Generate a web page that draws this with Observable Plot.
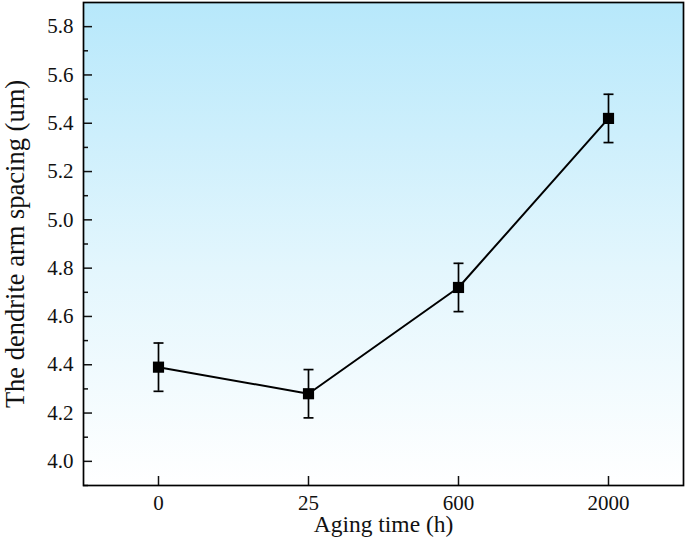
<!DOCTYPE html>
<html>
<head>
<meta charset="utf-8">
<script src="https://cdn.jsdelivr.net/npm/d3@7"></script>
<script src="https://cdn.jsdelivr.net/npm/@observablehq/plot@0.6"></script>
<style>
  html, body { margin: 0; padding: 0; background: #fff; }
  #chart svg { display: block; }
</style>
</head>
<body>
<div id="chart"></div>
<script>
const agingTime = ["0", "25", "600", "2000"];
const spacing = [4.39, 4.28, 4.72, 5.42];
const errorBar = [0.10, 0.10, 0.10, 0.10];
const majorTicks = [4.0, 4.2, 4.4, 4.6, 4.8, 5.0, 5.2, 5.4, 5.6, 5.8];
const minorTicks = [3.9, 4.1, 4.3, 4.5, 4.7, 4.9, 5.1, 5.3, 5.5, 5.7];
const yLabel = "The dendrite arm spacing (um)";
const xLabel = "Aging time (h)";

const data = agingTime.map((t, i) => ({t, v: spacing[i], lo: spacing[i] - errorBar[i], hi: spacing[i] + errorBar[i]}));

const hline = {
  draw(context, size) {
    const r = Math.sqrt(size / Math.PI);
    context.moveTo(-r, 0);
    context.lineTo(r, 0);
  }
};

const defs = () => {
  const g = d3.create("svg:defs");
  const lg = g.append("linearGradient").attr("id", "bgGrad").attr("x1", 0).attr("y1", 0).attr("x2", 0).attr("y2", 1);
  lg.append("stop").attr("offset", "0%").attr("stop-color", "#b7e8fb");
  lg.append("stop").attr("offset", "55%").attr("stop-color", "#e3f6fd");
  lg.append("stop").attr("offset", "100%").attr("stop-color", "#ffffff");
  return g.node();
};

const chart = Plot.plot({
  width: 685,
  height: 549,
  marginLeft: 83,
  marginRight: 2,
  marginTop: 2,
  marginBottom: 64,
  style: {fontFamily: "'Liberation Serif', 'Times New Roman', serif", color: "#111", background: "#fff"},
  x: {type: "point", domain: agingTime, padding: 0.5},
  y: {domain: [3.9, 5.9]},
  marks: [
    defs,
    Plot.frame({fill: "url(#bgGrad)", stroke: null}),
    Plot.axisY(minorTicks, {tickSize: -5, tickFormat: () => "", label: null, strokeWidth: 1.5}),
    Plot.axisY(majorTicks, {tickSize: -9, tickFormat: () => "", label: null, strokeWidth: 1.5}),
    Plot.axisY(majorTicks, {tickSize: 0, tickPadding: 10, tickFormat: d => d.toFixed(1), fontSize: 21, label: null}),
    Plot.axisY([], {tickSize: 0, fontSize: 26.5, label: yLabel, labelAnchor: "center", labelOffset: 78, labelArrow: "none"}),
    Plot.axisX(agingTime, {tickSize: -9, tickFormat: () => "", label: null, strokeWidth: 1.5}),
    Plot.axisX(agingTime, {tickSize: 0, tickPadding: 10, fontSize: 21, label: null}),
    Plot.axisX([], {tickSize: 0, fontSize: 23.5, label: xLabel, labelAnchor: "center", labelOffset: 46, labelArrow: "none"}),
    Plot.line(data, {x: "t", y: "v", stroke: "#000", strokeWidth: 2}),
    Plot.ruleX(data, {x: "t", y1: "lo", y2: "hi", stroke: "#000", strokeWidth: 1.7}),
    Plot.dot(data, {x: "t", y: "lo", symbol: hline, r: 5, stroke: "#000", strokeWidth: 1.7}),
    Plot.dot(data, {x: "t", y: "hi", symbol: hline, r: 5, stroke: "#000", strokeWidth: 1.7}),
    Plot.dot(data, {x: "t", y: "v", symbol: "square", r: 6.3, fill: "#000", stroke: null}),
    Plot.frame({stroke: "#000", strokeWidth: 1.7})
  ]
});

document.getElementById("chart").appendChild(chart);
</script>
</body>
</html>
